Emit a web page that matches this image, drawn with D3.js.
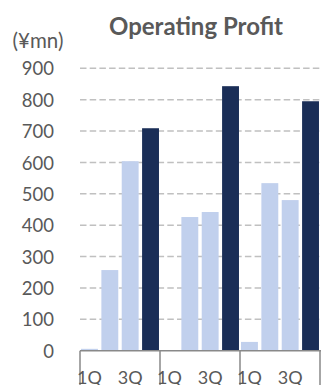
<!DOCTYPE html>
<html><head><meta charset="utf-8">
<script src="https://cdn.jsdelivr.net/npm/d3@7"></script>
<style>body{margin:0;background:#fff;overflow:hidden}</style>
</head><body>
<svg id="c" width="321" height="385"></svg>
<script>
const groups = ["G1","G2","G3"];
const quarters = ["1Q","2Q","3Q","4Q"];
const values = [
  [6, 257, 604, 709],
  [0, 426, 442, 843],
  [28, 534, 480, 795]
];
const yTicks = [0,100,200,300,400,500,600,700,800,900];
const title = "Operating Profit";
const unit = "(¥mn)";

const svg = d3.select("#c");
const font = "Lato, 'Open Sans', sans-serif";
const txt = "#595959";
const x0 = d3.scaleBand().domain(groups).range([80,320]).paddingInner(0).paddingOuter(0);
const x1 = d3.scaleBand().domain(quarters).range([0,x0.bandwidth()]).paddingInner(0.17).paddingOuter(0.05);
const y = d3.scaleLinear().domain([0,900]).range([350.7,68.3]);

// gridlines
svg.append("g").selectAll("line").data(yTicks.filter(d=>d>0)).join("line")
  .attr("x1",80).attr("x2",321).attr("y1",d=>y(d)).attr("y2",d=>y(d))
  .attr("stroke","#c0c0c0").attr("stroke-width",1.5).attr("stroke-dasharray","6.5,3.2");

// y axis labels
const ya = d3.axisLeft(y).tickValues(yTicks).tickSize(0).tickPadding(0);
const yg = svg.append("g").attr("transform","translate(54,0)").call(ya);
yg.select(".domain").remove();
yg.selectAll("text").attr("font-family",font).attr("font-size",18.5).attr("fill",txt).attr("dy","0.36em");

// bars
svg.append("g").selectAll("g").data(values).join("g")
  .attr("transform",(d,i)=>`translate(${x0(groups[i])},0)`)
  .selectAll("rect").data(d=>d.map((v,j)=>({q:quarters[j],v}))).join("rect")
  .attr("x",d=>x1(d.q)).attr("width",x1.bandwidth())
  .attr("y",d=>y(d.v)).attr("height",d=>y(0)-y(d.v))
  .attr("fill",d=>d.q==="4Q"?"#1a2e57":"#c1d0ed");

// baseline & group dividers
svg.append("line").attr("x1",80).attr("x2",321).attr("y1",y(0)).attr("y2",y(0))
  .attr("stroke","#898989").attr("stroke-width",1.5);
svg.append("g").selectAll("line").data(groups.concat(["end"])).join("line")
  .attr("x1",(d,i)=>80+i*x0.bandwidth()).attr("x2",(d,i)=>80+i*x0.bandwidth())
  .attr("y1",y(0)).attr("y2",385).attr("stroke","#898989").attr("stroke-width",1.5);

// quarter labels (every other shown)
groups.forEach(g=>{
  svg.append("g").selectAll("text").data(quarters.filter((q,i)=>i%2===0)).join("text")
    .attr("x",q=>x0(g)+x1(q)+x1.bandwidth()/2).attr("y",384)
    .attr("text-anchor","middle").attr("font-family",font).attr("font-size",18).attr("fill",txt)
    .text(q=>q);
});

svg.append("text").attr("x",196).attr("y",35).attr("text-anchor","middle")
  .attr("font-family",font).attr("font-weight","bold").attr("font-size",24).attr("fill",txt).text(title);
svg.append("text").attr("x",38).attr("y",48).attr("text-anchor","middle")
  .attr("font-family",font).attr("font-size",20.5).attr("fill",txt).text(unit);
</script>
</body></html>
